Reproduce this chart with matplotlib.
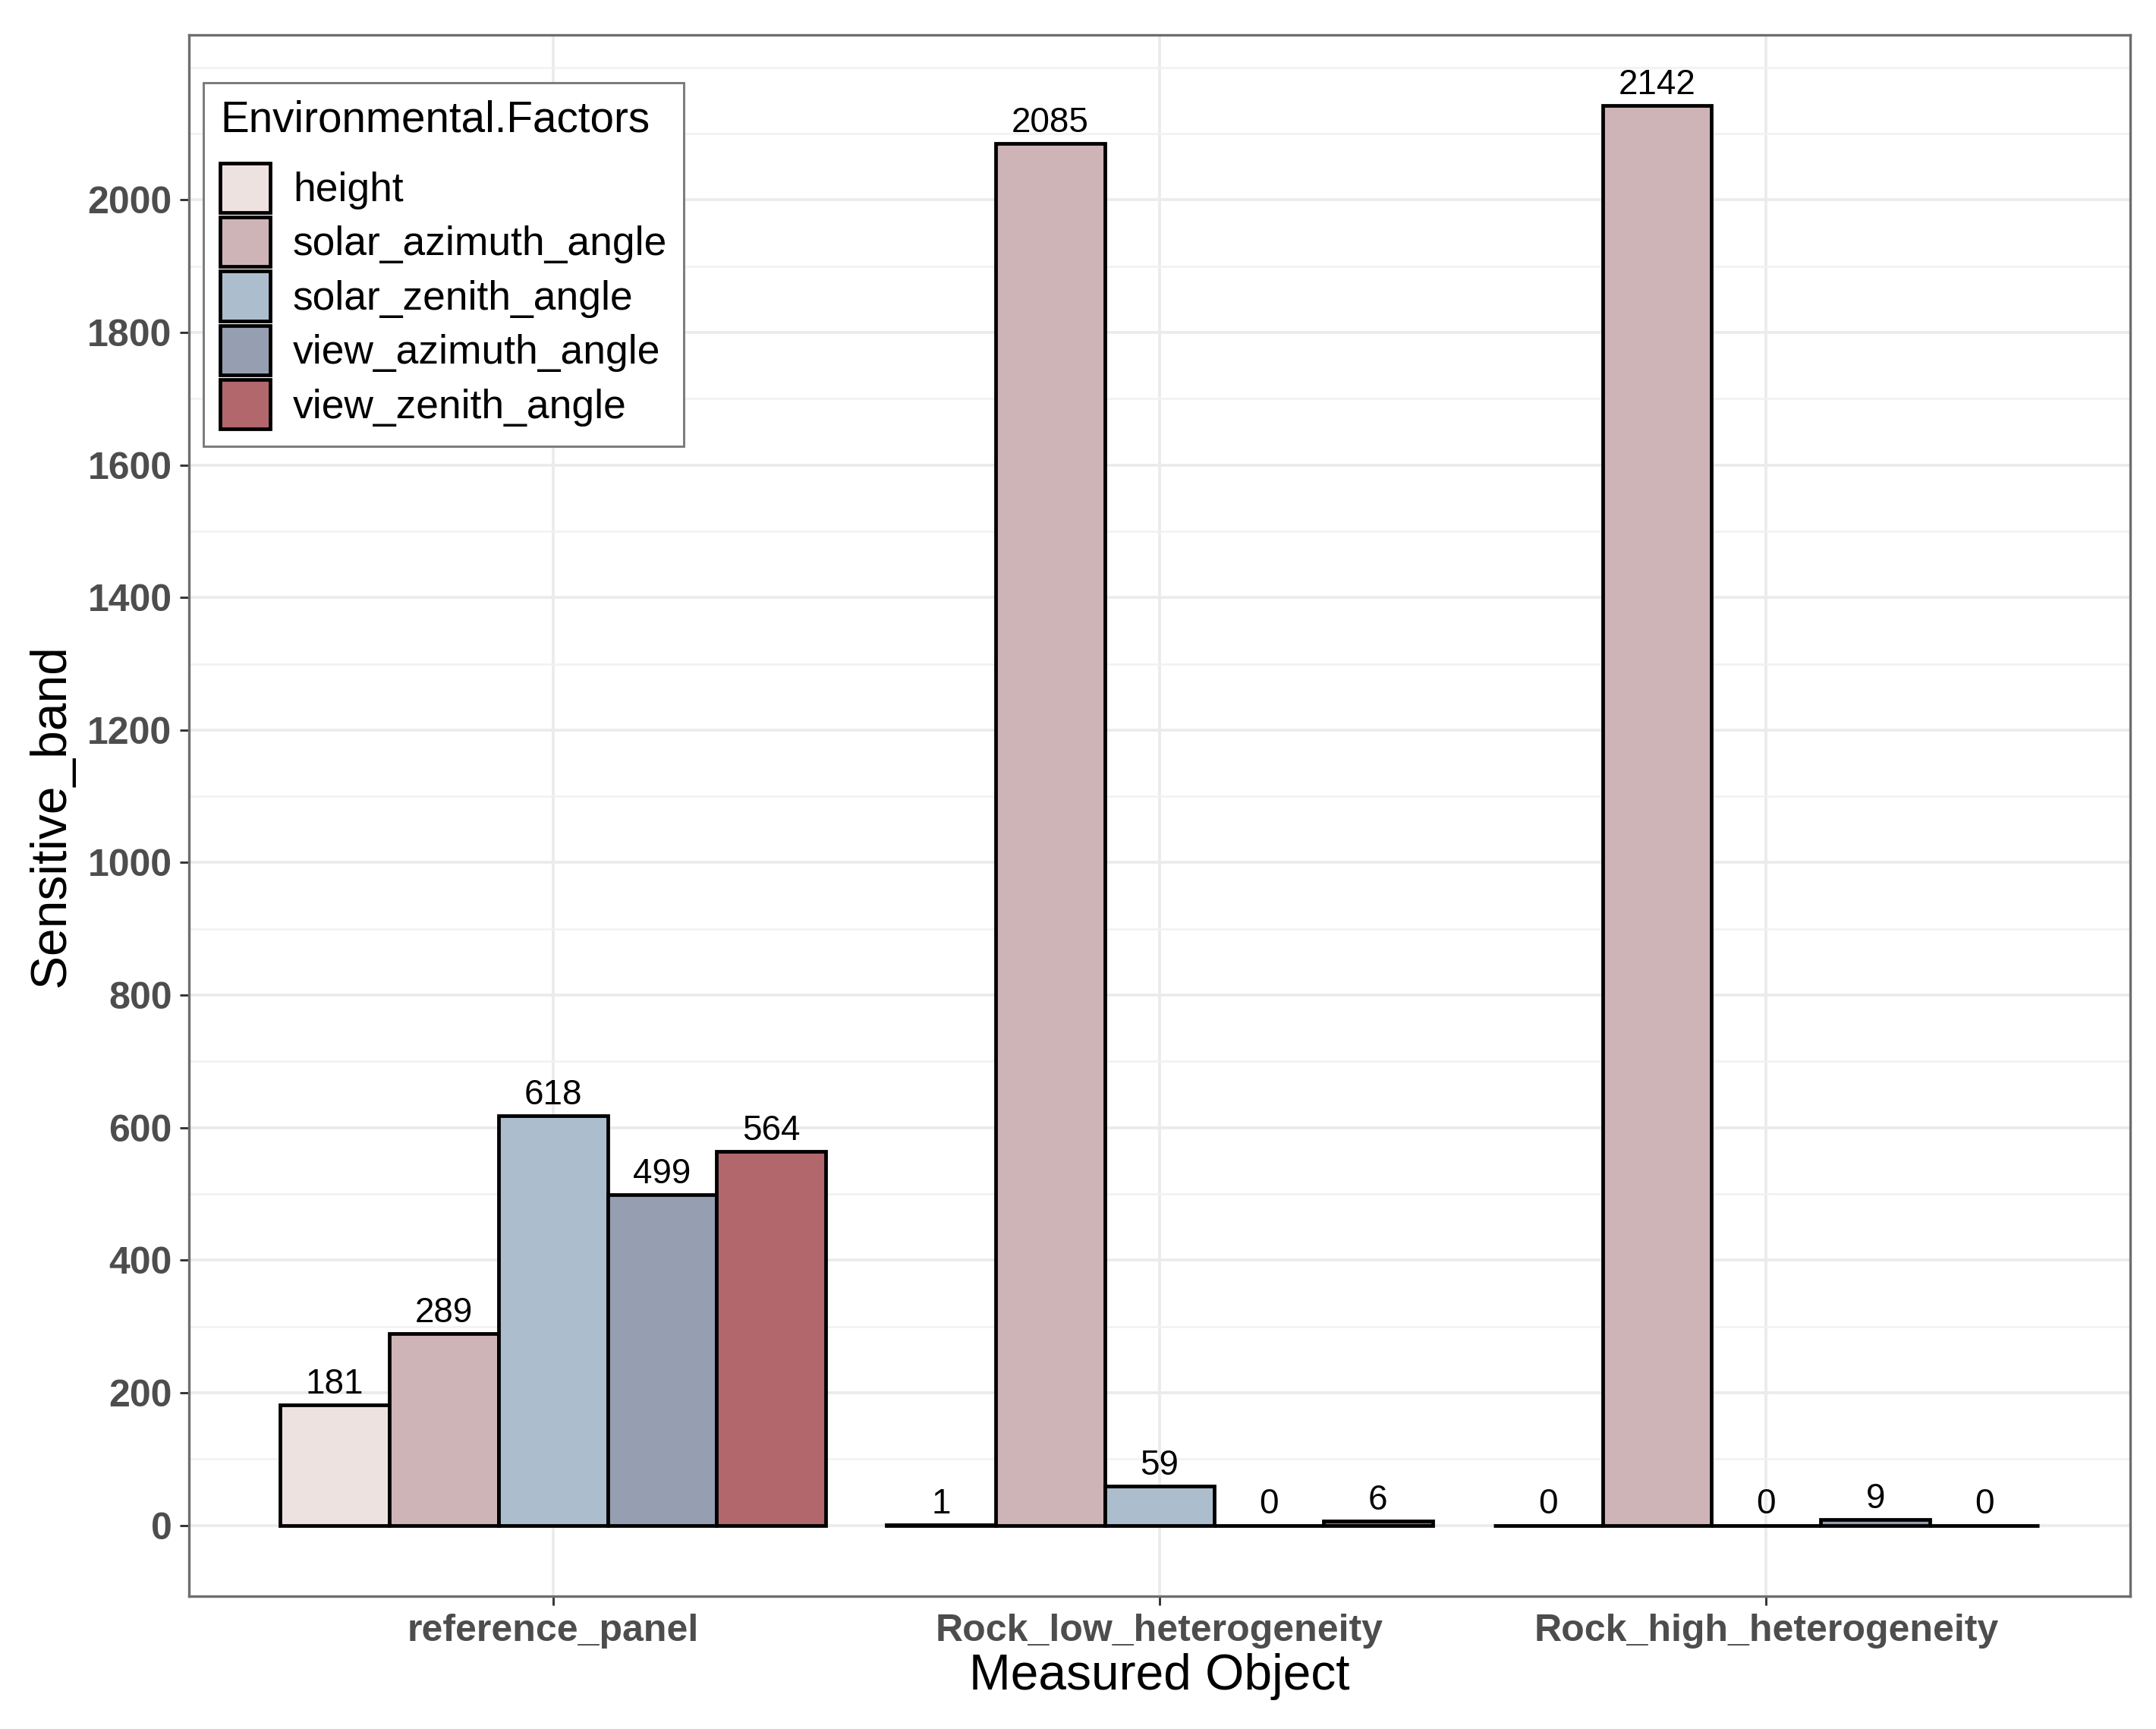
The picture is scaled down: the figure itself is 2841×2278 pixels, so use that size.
# -*- coding: utf-8 -*-

import numpy as np
import matplotlib
matplotlib.use('Agg')
import matplotlib.pyplot as plt
from matplotlib.ticker import FixedLocator

plt.rcParams['font.family'] = ['Liberation Sans', 'DejaVu Sans']

objects = ['reference_panel', 'Rock_low_heterogeneity', 'Rock_high_heterogeneity']
factors = ['height', 'solar_azimuth_angle', 'solar_zenith_angle',
           'view_azimuth_angle', 'view_zenith_angle']
# counts per factor, one value per measured object
height = [181, 1, 0]
solar_azimuth_angle = [289, 2085, 2142]
solar_zenith_angle = [618, 59, 0]
view_azimuth_angle = [499, 0, 9]
view_zenith_angle = [564, 6, 0]
values = [height, solar_azimuth_angle, solar_zenith_angle,
          view_azimuth_angle, view_zenith_angle]
colors = ['#EEE2E0', '#CFB4B7', '#ACBECE', '#959FB1', '#B1676C']

major_y = [0, 200, 400, 600, 800, 1000, 1200, 1400, 1600, 1800, 2000]
minor_y = [100, 300, 500, 700, 900, 1100, 1300, 1500, 1700, 1900, 2100, 2200]

W, H = 2841, 2278
fig = plt.figure(figsize=(W / 300., H / 300.), dpi=300)
ax = fig.add_axes([249. / W, 1 - 2103. / H, (2807 - 249.) / W, (2103 - 46.) / H])

x = np.arange(1, len(objects) + 1)
w = 0.9 / len(factors)
for j, (name, vals) in enumerate(zip(factors, values)):
    pos = x + (j - 2) * w
    ax.bar(pos, vals, width=w, color=colors[j], edgecolor='black',
           linewidth=1.15, label=name, zorder=3)
    for p, v in zip(pos, vals):
        ax.annotate(str(v), (p, v), xytext=(0, 1.2), textcoords='offset points',
                    ha='center', va='bottom', fontsize=11, color='black',
                    zorder=4)

ax.set_xlim(0.4, 3.6)
ax.set_ylim(-107.1, 2249.1)
ax.set_xticks(x)
ax.set_xticklabels(objects)
ax.yaxis.set_major_locator(FixedLocator(major_y))
ax.yaxis.set_minor_locator(FixedLocator(minor_y))
ax.grid(which='major', color='#EBEBEB', linewidth=0.9, zorder=0)
ax.yaxis.grid(which='minor', color='#F1F1F1', linewidth=0.6, zorder=0)
ax.set_axisbelow(True)
ax.tick_params(axis='both', which='major', length=2.9, width=0.7,
               color='#333333', labelsize=12, labelcolor='#4D4D4D', pad=2.5)
ax.tick_params(axis='y', which='minor', length=0)
for lab in ax.get_xticklabels() + ax.get_yticklabels():
    lab.set_fontweight('bold')
for s in ax.spines.values():
    s.set_color('#6E6E6E')
    s.set_linewidth(0.8)

ax.set_xlabel('Measured Object', fontsize=15.8, labelpad=1.5)
ax.set_ylabel('Sensitive_band', fontsize=15.8, labelpad=4)

leg = ax.legend(title='Environmental.Factors', loc='upper left',
                bbox_to_anchor=(0.0074, 0.9694), borderaxespad=0,
                fontsize=12.8, title_fontsize=13.6, fancybox=False,
                framealpha=1, edgecolor='#7A7A7A', handlelength=1.24,
                handleheight=1.5, labelspacing=0.12, handletextpad=0.55,
                borderpad=0.42)
leg.get_frame().set_linewidth(0.7)
leg._legend_box.align = 'left'
leg._legend_box.sep = 7

plt.savefig('out.png', dpi=300)
